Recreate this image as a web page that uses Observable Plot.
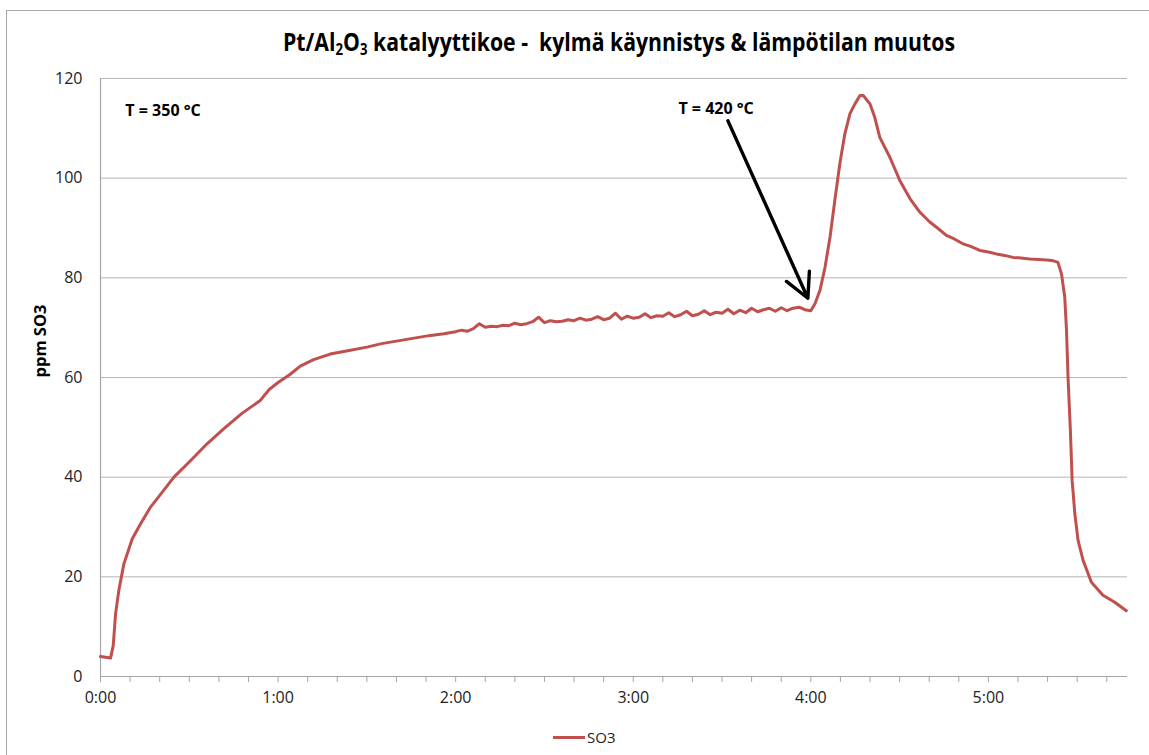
<!DOCTYPE html>
<html>
<head>
<meta charset="utf-8">
<script src="https://cdn.jsdelivr.net/npm/d3@7"></script>
<script src="https://cdn.jsdelivr.net/npm/@observablehq/plot@0.6"></script>
<style>
  html, body { margin: 0; padding: 0; background: #fff; }
  #wrap { position: relative; width: 1149px; height: 755px; overflow: hidden; font-family: "Open Sans", sans-serif; }
  #frame { position: absolute; left: 6px; top: 10px; width: 1160px; height: 760px; border: 1px solid #a6a6a6; box-sizing: border-box; pointer-events: none; }
  #title { position: absolute; top: 24px; left: 0; white-space: nowrap; font-weight: bold; font-size: 25px; color: #000; transform-origin: 0 0; }
  #title sub { font-size: 0.62em; vertical-align: -0.25em; line-height: 0; }
  #legend { position: absolute; left: 553px; top: 727px; display: flex; align-items: center; font-size: 15px; color: #222; }
  #legend .sw { width: 32px; height: 3px; background: #c0504d; margin-right: 2px; }
  #chart { position: absolute; left: 0; top: 0; }
</style>
</head>
<body>
<div id="wrap">
  <div id="chart"></div>
  <div id="frame"></div>
  <div id="title">Pt/Al<sub>2</sub>O<sub>3</sub> katalyyttikoe -&nbsp; kylmä käynnistys &amp; lämpötilan muutos</div>
  <div id="legend"><div class="sw"></div><span id="legendLabel"></span></div>
</div>
<script>
// ---- data (time in minutes, SO3 in ppm) ----
const seriesName = "SO3";
const yLabel = "ppm SO3";
const minutes = [
  0, 3.4, 4.3, 5.1, 6.2, 7.9, 10.7, 13.5, 16.9, 19.7, 24.8, 30.4, 36, 41.6, 47.8, 54, 57, 60,
  64, 67.5, 72, 77.6, 84, 90, 95, 101, 106, 111, 116,
  120, 122, 124, 126, 128, 130, 132, 134, 136, 138, 140, 142, 144, 146, 148, 150, 152, 154, 156, 158,
  160, 162, 164, 166, 168, 170, 172, 174, 176, 178, 180, 182, 184, 186, 188, 190, 192, 194, 196, 198,
  200, 202, 204, 206, 208, 210, 212, 214, 216, 218, 220, 222, 224, 226, 228, 230, 232, 234, 236, 238, 240,
  241.4, 243.1, 244.8, 246.5, 248.1, 249.8, 251.5, 253.2, 254.9, 256.6, 257.7, 260, 261.6, 263.3,
  266.7, 270.1, 273.5, 276.8, 280.2, 283, 285.8, 288.5, 291.5, 294, 297.1, 300, 302.7, 305.5, 308.3,
  311, 314, 317, 319.6, 321.5, 323.5,
  324.7, 325.8, 326.4, 326.9, 327.7, 328.3, 329.2, 330.3, 332, 334.8, 338.7, 342.7, 346.6
];
const so3 = [
  4.0, 3.7, 6.2, 12.6, 17.3, 22.6, 27.6, 30.6, 34.0, 36.1, 40.0, 43.3, 46.7, 49.7, 52.8, 55.4, 57.6, 59.0,
  60.6, 62.3, 63.6, 64.7, 65.4, 66.1, 66.8, 67.4, 67.9, 68.4, 68.8,
  69.2, 69.5, 69.3, 69.8, 70.8, 70.1, 70.3, 70.2, 70.5, 70.4, 70.9, 70.6, 70.8, 71.2, 72.1, 71.0, 71.4, 71.2, 71.3, 71.6,
  71.4, 71.9, 71.5, 71.7, 72.2, 71.6, 71.9, 72.9, 71.7, 72.3, 71.9, 72.1, 72.8, 72.0, 72.4, 72.3, 73.0, 72.2, 72.6, 73.3,
  72.4, 72.7, 73.4, 72.6, 73.1, 72.9, 73.7, 72.8, 73.5, 73.0, 73.9, 73.2, 73.6, 73.9, 73.3, 74.0, 73.4, 73.9, 74.1, 73.6, 73.4,
  74.8, 77.5, 82.1, 88.2, 95.5, 102.9, 108.9, 112.9, 114.9, 116.6, 116.6, 114.9, 112.2, 108.2,
  104.2, 99.5, 95.9, 93.2, 91.2, 89.9, 88.5, 87.8, 86.8, 86.3, 85.5, 85.2, 84.8, 84.5, 84.1,
  84.0, 83.8, 83.7, 83.6, 83.5, 83.1,
  80.8, 76.1, 69.4, 60.1, 49.4, 39.3, 32.7, 27.3, 23.3, 18.9, 16.3, 14.9, 13.2
];
const yTicks = [0, 20, 40, 60, 80, 100, 120];
const xTickMinutes = [0, 60, 120, 180, 240, 300];
const xTickLabels = ["0:00", "1:00", "2:00", "3:00", "4:00", "5:00"];
const xMinorMinutes = [0,10,20,30,40,50,60,70,80,90,100,110,120,130,140,150,160,170,180,190,200,210,220,230,240,250,260,270,280,290,300,310,320,330,340];
const xDomain = [0, 347];
const yDomain = [0, 120];
// annotations
const noteLabels = ["T = 350 °C", "T = 420 °C"];
const noteMinutes = [8.4, 208];
const notePpm = [113.6, 113.9];
const noteAnchors = ["start", "middle"];
const arrowFrom = [212, 111.5];
const arrowTo = [239, 75.9];

const data = minutes.map((t, i) => ({t, v: so3[i]}));
const notes = noteLabels.map((s, i) => ({s, t: noteMinutes[i], v: notePpm[i], a: noteAnchors[i]}));
const labelMap = new Map(xTickMinutes.map((m, i) => [m, xTickLabels[i]]));

const chart = Plot.plot({
  width: 1149,
  height: 755,
  marginLeft: 100,
  marginRight: 22,
  marginTop: 78,
  marginBottom: 79,
  style: {fontFamily: "'Open Sans', sans-serif", fontSize: "16px", color: "#222", background: "transparent"},
  x: {domain: xDomain},
  y: {domain: yDomain},
  marks: [
    Plot.gridY(yTicks, {stroke: "#b5b5b5", strokeOpacity: 1, strokeWidth: 1}),
    Plot.ruleX([0], {stroke: "#a6a6a6", strokeWidth: 1.2}),
    Plot.ruleY([0], {stroke: "#a6a6a6", strokeWidth: 1.2}),
    Plot.axisY(yTicks, {tickSize: 0, tickPadding: 18, label: null, fontSize: 16}),
    Plot.axisX(xMinorMinutes, {tickSize: 6, stroke: "#a6a6a6", strokeOpacity: 1, tickFormat: () => "", label: null}),
    Plot.axisX(xTickMinutes, {tickSize: 0, tickPadding: 15, tickFormat: d => labelMap.get(d), label: null, fontSize: 16}),
    Plot.text([yLabel], {frameAnchor: "left", dx: -60, rotate: -90, fontWeight: "bold", fontSize: 16.5, fill: "#000"}),
    Plot.line(data, {x: "t", y: "v", stroke: "#c0504d", strokeWidth: 3, strokeLinejoin: "round"}),
    Plot.text(notes.filter(d => d.a === "start"), {x: "t", y: "v", text: "s", textAnchor: "start", fontWeight: "bold", fontSize: 16, fill: "#000"}),
    Plot.text(notes.filter(d => d.a === "middle"), {x: "t", y: "v", text: "s", textAnchor: "middle", fontWeight: "bold", fontSize: 16, fill: "#000"}),
    Plot.arrow([{x1: arrowFrom[0], y1: arrowFrom[1], x2: arrowTo[0], y2: arrowTo[1]}], {x1: "x1", y1: "y1", x2: "x2", y2: "y2", stroke: "#000", strokeWidth: 3.4, headLength: 12, headAngle: 55})
  ]
});
document.getElementById("chart").appendChild(chart);
document.getElementById("legendLabel").textContent = seriesName;

// fit title to the reference width, centred
const title = document.getElementById("title");
const w = title.getBoundingClientRect().width;
const target = 672;
const s = target / w;
title.style.transform = `scaleX(${s})`;
title.style.left = (619 - target / 2) + "px";
</script>
</body>
</html>
